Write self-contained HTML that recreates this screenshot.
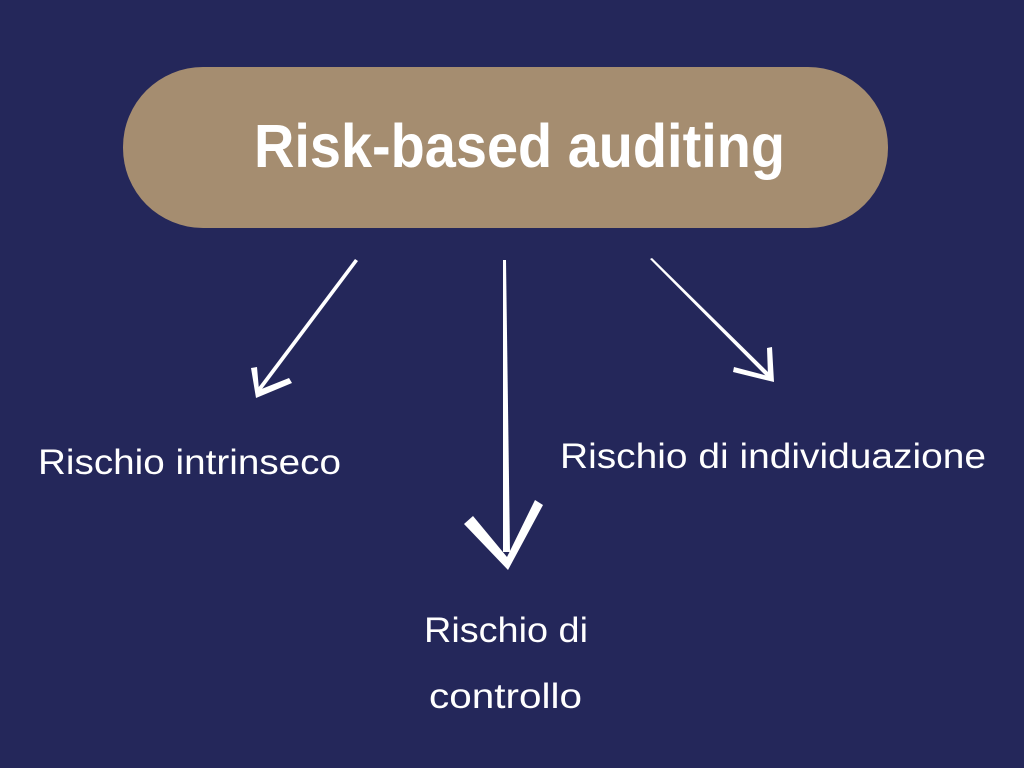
<!DOCTYPE html>
<html><head><meta charset="utf-8"><style>
html,body{margin:0;padding:0;background:#24275a;}
svg{display:block}
text{font-family:"Liberation Sans",sans-serif;fill:#fff}
</style></head><body>
<svg width="1024" height="768" viewBox="0 0 1024 768">
<rect width="1024" height="768" fill="#24275a"/>
<rect x="123" y="67" width="765" height="161" rx="80" fill="#a58d70"/>
<text x="254" y="167" font-size="61" font-weight="bold" textLength="531" lengthAdjust="spacingAndGlyphs">Risk-based auditing</text>
<g fill="#fff">
<polygon points="355,259 358,261 259,393 255,392"/>
<polygon points="251,368 257,367 259,390 289,378 292,383 256,398"/>
<polygon points="503,260 506,260 510,552 503,552"/>
<polygon points="464,524 473,516 507,557 535,500 543,505 508,570"/>
<polygon points="650,259 652,258 771,375 768,378"/>
<polygon points="767,348 772,347 774,382 733,372 734,367 768,376"/>
</g>
<text x="38" y="474" font-size="35" textLength="303" lengthAdjust="spacingAndGlyphs">Rischio intrinseco</text>
<text x="560" y="468" font-size="35" textLength="426" lengthAdjust="spacingAndGlyphs">Rischio di individuazione</text>
<text x="424" y="642" font-size="35" textLength="164" lengthAdjust="spacingAndGlyphs">Rischio di</text>
<text x="429" y="708" font-size="35" textLength="153" lengthAdjust="spacingAndGlyphs">controllo</text>
</svg>
</body></html>
